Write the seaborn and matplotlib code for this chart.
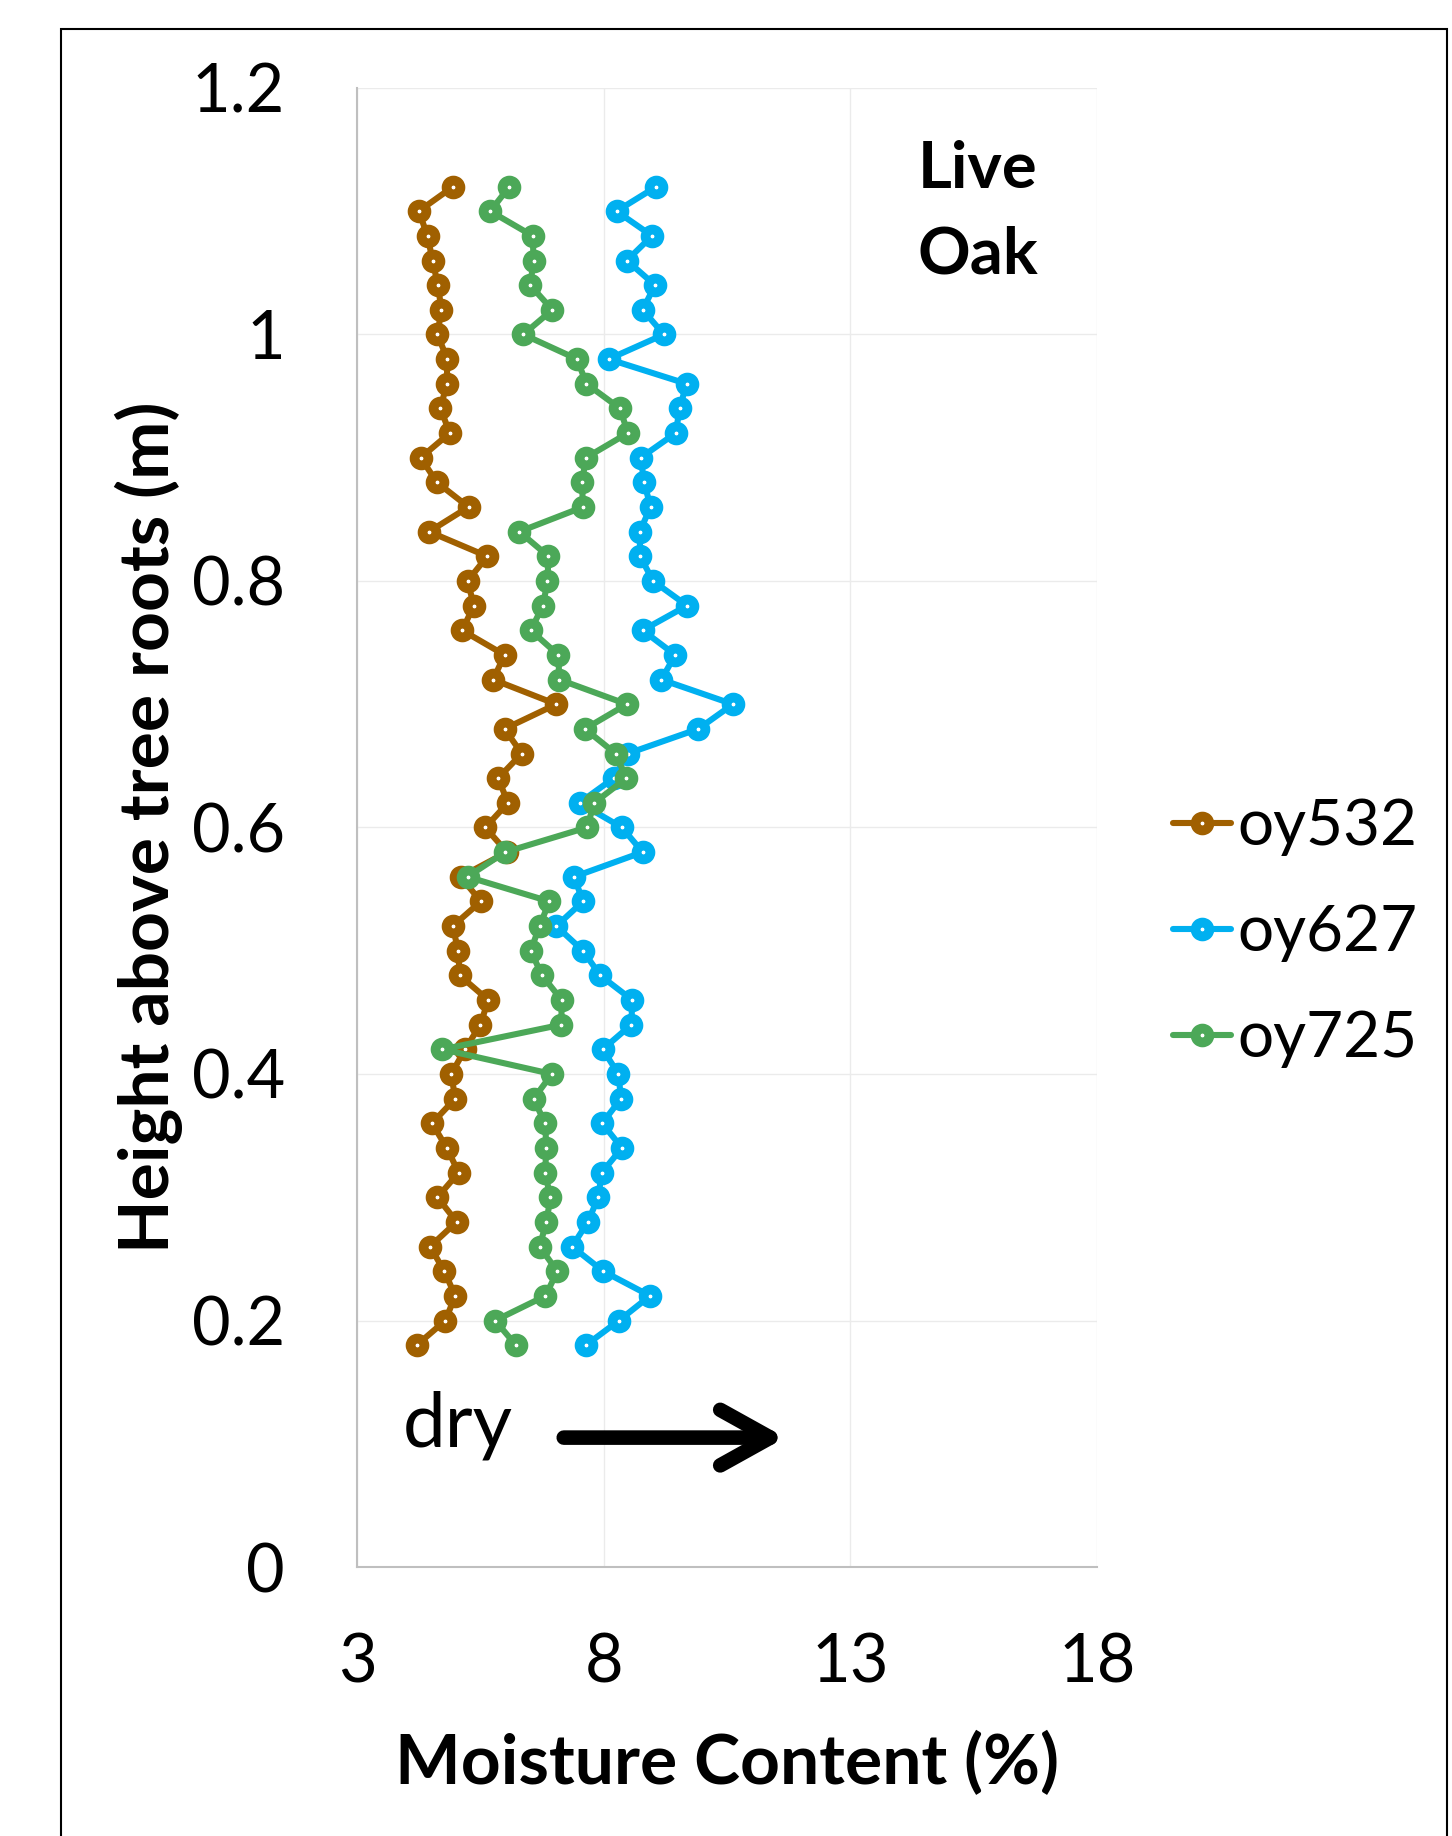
import pandas as pd
import matplotlib.pyplot as plt
import seaborn as sns
from matplotlib.patches import Rectangle

# ---- Dados ----
altura = [1.12, 1.10, 1.08, 1.06, 1.04, 1.02, 1.00, 0.98, 0.96, 0.94, 0.92, 0.90,
          0.88, 0.86, 0.84, 0.82, 0.80, 0.78, 0.76, 0.74, 0.72, 0.70, 0.68, 0.66,
          0.64, 0.62, 0.60, 0.58, 0.56, 0.54, 0.52, 0.50, 0.48, 0.46, 0.44, 0.42,
          0.40, 0.38, 0.36, 0.34, 0.32, 0.30, 0.28, 0.26, 0.24, 0.22, 0.20, 0.18]

oy532 = [4.95, 4.25, 4.43, 4.53, 4.64, 4.71, 4.63, 4.83, 4.82, 4.69, 4.88, 4.29,
         4.62, 5.26, 4.46, 5.64, 5.24, 5.37, 5.13, 5.99, 5.76, 7.04, 5.99, 6.34,
         5.86, 6.06, 5.60, 6.04, 5.10, 5.51, 4.94, 5.05, 5.08, 5.66, 5.50, 5.19,
         4.91, 4.99, 4.52, 4.82, 5.06, 4.63, 5.02, 4.48, 4.77, 4.99, 4.79, 4.21]

oy627 = [9.07, 8.26, 8.98, 8.47, 9.04, 8.79, 9.22, 8.10, 9.68, 9.54, 9.46, 8.75,
         8.82, 8.95, 8.73, 8.74, 9.00, 9.69, 8.79, 9.45, 9.17, 10.62, 9.92, 8.49,
         8.20, 7.51, 8.37, 8.79, 7.40, 7.58, 7.04, 7.58, 7.93, 8.58, 8.56, 7.98,
         8.30, 8.35, 7.97, 8.37, 7.96, 7.89, 7.68, 7.36, 7.99, 8.94, 8.31, 7.64]

oy725 = [6.09, 5.70, 6.56, 6.58, 6.51, 6.96, 6.37, 7.46, 7.65, 8.33, 8.49, 7.64,
         7.56, 7.58, 6.29, 6.88, 6.86, 6.77, 6.52, 7.08, 7.10, 8.47, 7.62, 8.24,
         8.46, 7.81, 7.66, 6.00, 5.24, 6.90, 6.70, 6.52, 6.75, 7.15, 7.14, 4.73,
         6.95, 6.58, 6.81, 6.84, 6.81, 6.92, 6.84, 6.70, 7.06, 6.82, 5.80, 6.22]

series = ["oy532", "oy627", "oy725"]
cores = ["#A06000", "#00B0F0", "#4CA858"]

x_ticks = [3, 8, 13, 18]
y_ticks = [0, 0.2, 0.4, 0.6, 0.8, 1.0, 1.2]
y_tick_labels = ["0", "0.2", "0.4", "0.6", "0.8", "1", "1.2"]

data = pd.DataFrame({
    "altura": altura * 3,
    "umidade": oy532 + oy627 + oy725,
    "amostra": ["oy532"] * len(altura) + ["oy627"] * len(altura) + ["oy725"] * len(altura),
})

# ---- Estilo ----
sns.set_style("white")
plt.rcParams['font.family'] = ['Lato', 'DejaVu Sans']
for chave in ["text.color", "axes.labelcolor", "xtick.color", "ytick.color"]:
    plt.rcParams[chave] = "black"

fig = plt.figure(figsize=(14.52, 18.36), dpi=100)
ax = fig.add_axes([0.2459, 0.1465, 0.5096, 0.8056])

for nome, cor in zip(series, cores):
    sub = data[data["amostra"] == nome]
    sns.lineplot(data=sub, x="umidade", y="altura", sort=False, estimator=None,
                 color=cor, linewidth=4.4, marker="o", markersize=10,
                 markeredgewidth=7, markeredgecolor=cor, markerfacecolor="white",
                 label=nome, ax=ax)

ax.set_xlim(3, 18)
ax.set_ylim(0, 1.2)
ax.set_xticks(x_ticks)
ax.set_yticks(y_ticks)
ax.set_yticklabels(y_tick_labels)
ax.tick_params(axis="both", length=0, labelsize=48)
ax.tick_params(axis="y", pad=52)
ax.tick_params(axis="x", pad=47)
ax.grid(True, color="#EBEBEB", linewidth=1.0)
for s in ["top", "right"]:
    ax.spines[s].set_visible(False)
for s in ["left", "bottom"]:
    ax.spines[s].set_color("#BFBFBF")
    ax.spines[s].set_linewidth(1.5)

ax.set_xlabel("Moisture Content (%)", fontsize=50, fontweight="bold")
ax.set_ylabel("Height above tree roots (m)", fontsize=50, fontweight="bold")
ax.xaxis.set_label_coords(0.5, -0.111)
ax.yaxis.set_label_coords(-0.235, 0.5)

# ---- Anotações ----
ax.text(14.36, 1.158, "Live\nOak", fontsize=47, fontweight="bold",
        ha="left", va="top", linespacing=1.55)
ax.text(3.93, 0.098, "dry", fontsize=55, ha="left", va="baseline")
ax.annotate("", xy=(11.68, 0.105), xytext=(7.19, 0.105),
            arrowprops=dict(arrowstyle="->,head_length=3.6,head_width=2.0",
                            lw=10.5, color="black", shrinkA=0, shrinkB=0))

leg = ax.legend(loc="center left", bbox_to_anchor=(0.8079, 0.4918),
                bbox_transform=fig.transFigure, frameon=False, fontsize=46,
                handlelength=0.9, handletextpad=0.1, borderpad=0,
                borderaxespad=0, labelspacing=0.75)

# moldura da figura
fig.patches.append(Rectangle((0.042, -0.01), 0.9546, 0.9942, transform=fig.transFigure,
                             fill=False, edgecolor="black", linewidth=1.5))

plt.savefig("out.png", dpi=100)
